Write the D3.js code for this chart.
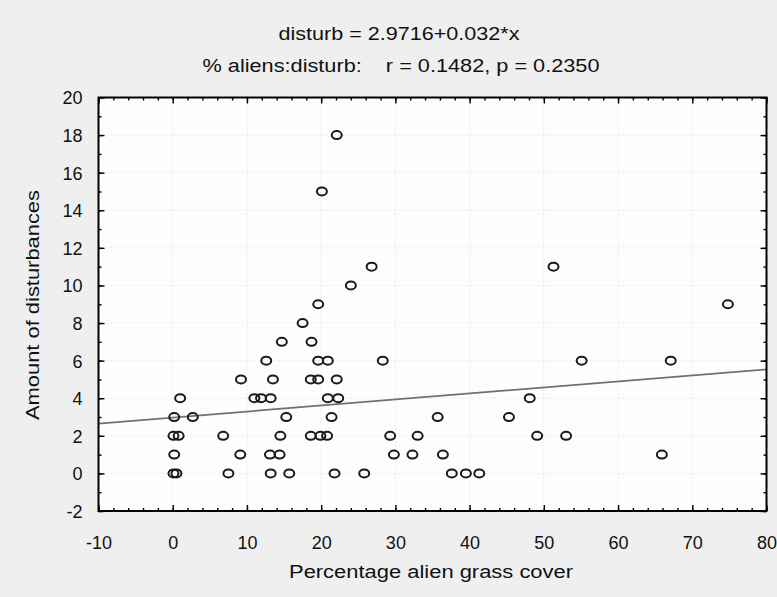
<!DOCTYPE html>
<html>
<head>
<meta charset="utf-8">
<script src="https://cdn.jsdelivr.net/npm/d3@7"></script>
<style>
  html, body { margin: 0; padding: 0; background: #efefef; }
  svg { display: block; }
  text { font-family: Arial, "Liberation Sans", sans-serif; fill: #111; }
</style>
</head>
<body>
<svg id="chart" width="777" height="597"></svg>
<script>
// ---- data ----
const alienCover = [
  22.1, 20.1, 26.8, 51.3, 24.0, 19.6, 74.8, 17.5, 14.7, 18.7,
  12.6, 19.6, 20.9, 28.3, 55.1, 67.1,
  9.2, 13.5, 18.6, 19.6, 22.1,
  1.0, 11.0, 11.9, 13.2, 20.9, 22.3, 48.1,
  0.2, 2.7, 15.3, 21.4, 35.7, 45.3,
  0.1, 0.8, 6.8, 14.5, 18.6, 19.9, 20.8, 29.3, 33.0, 49.1, 53.0,
  0.2, 9.1, 13.1, 14.4, 29.8, 32.3, 36.4, 65.9,
  0.1, 0.5, 7.5, 13.2, 15.7, 21.8, 25.8, 37.6, 39.5, 41.3
];
const disturbances = [
  18, 15, 11, 11, 10, 9, 9, 8, 7, 7,
  6, 6, 6, 6, 6, 6,
  5, 5, 5, 5, 5,
  4, 4, 4, 4, 4, 4, 4,
  3, 3, 3, 3, 3, 3,
  2, 2, 2, 2, 2, 2, 2, 2, 2, 2, 2,
  1, 1, 1, 1, 1, 1, 1, 1,
  0, 0, 0, 0, 0, 0, 0, 0, 0, 0
];
const intercept = 2.9716;
const slope = 0.032;
const xTicks = [-10, 0, 10, 20, 30, 40, 50, 60, 70, 80];
const yTicks = [-2, 0, 2, 4, 6, 8, 10, 12, 14, 16, 18, 20];
const titleLine1 = "disturb = 2.9716+0.032*x";
const titleLine2 = "% aliens:disturb:    r = 0.1482, p = 0.2350";
const xTitle = "Percentage alien grass cover";
const yTitle = "Amount of disturbances";

// ---- layout ----
const svg = d3.select("#chart");
const L = 98.5, R = 766.5, T = 97.5, B = 511;
const x = d3.scaleLinear().domain([-10, 80]).range([L, R]);
const y = d3.scaleLinear().domain([-2, 20]).range([B, T]);
const fmt = d => String(d); // plain hyphen-minus as in the reference

// plot background
svg.append("rect").attr("x", L).attr("y", T).attr("width", R - L).attr("height", B - T)
  .attr("fill", "#fdfdfd");

// faint dotted grid
const grid = svg.append("g").attr("stroke", "#dadada").attr("stroke-width", 1)
  .attr("stroke-dasharray", "1,3");
grid.selectAll("line.v").data(xTicks.slice(1, -1)).join("line")
  .attr("x1", d => x(d)).attr("x2", d => x(d)).attr("y1", T).attr("y2", B);
grid.selectAll("line.h").data(yTicks.slice(1, -1)).join("line")
  .attr("x1", L).attr("x2", R).attr("y1", d => y(d)).attr("y2", d => y(d));

// axes with inward ticks
const xMinor = d3.range(-10, 80.01, 2);
const yMinor = d3.range(-2, 20.01, 1);
function addAxis(axisGen, tx, ty) {
  const g = svg.append("g").attr("transform", `translate(${tx},${ty})`).call(axisGen);
  g.select(".domain").remove();
  g.selectAll("line").attr("stroke", "#000").attr("stroke-width", 1.4);
  return g;
}
// minor ticks
addAxis(d3.axisBottom(x).tickValues(xMinor).tickSize(-3).tickFormat(""), 0, B);
addAxis(d3.axisTop(x).tickValues(xMinor).tickSize(-3).tickFormat(""), 0, T);
addAxis(d3.axisLeft(y).tickValues(yMinor).tickSize(-3).tickFormat(""), L, 0);
addAxis(d3.axisRight(y).tickValues(yMinor).tickSize(-3).tickFormat(""), R, 0);
// major ticks
const xb = addAxis(d3.axisBottom(x).tickValues(xTicks).tickSize(-6).tickFormat(fmt), 0, B);
addAxis(d3.axisTop(x).tickValues(xTicks).tickSize(-6).tickFormat(""), 0, T);
const yl = addAxis(d3.axisLeft(y).tickValues(yTicks).tickSize(-6).tickPadding(16).tickFormat(fmt), L, 0);
addAxis(d3.axisRight(y).tickValues(yTicks).tickSize(-6).tickFormat(""), R, 0);
xb.selectAll("text").attr("font-size", 18).attr("fill", "#111")
  .style("font-family", "Arial, 'Liberation Sans', sans-serif").attr("dy", "0").attr("y", 38);
yl.selectAll("text").attr("font-size", 18).attr("fill", "#111")
  .style("font-family", "Arial, 'Liberation Sans', sans-serif").attr("dy", "0.36em");

// regression line
svg.append("line")
  .attr("x1", x(-10)).attr("y1", y(intercept + slope * -10))
  .attr("x2", x(80)).attr("y2", y(intercept + slope * 80))
  .attr("stroke", "#6f716a").attr("stroke-width", 1.7);

// points
svg.append("g").selectAll("ellipse").data(alienCover).join("ellipse")
  .attr("cx", d => x(d)).attr("cy", (d, i) => y(disturbances[i]))
  .attr("rx", 5).attr("ry", 4)
  .attr("fill", "none").attr("stroke", "#1a1a1a").attr("stroke-width", 2);

// frame
svg.append("rect").attr("x", L).attr("y", T).attr("width", R - L).attr("height", B - T)
  .attr("fill", "none").attr("stroke", "#000").attr("stroke-width", 2);

// titles
svg.append("text").attr("x", 399).attr("y", 40).attr("text-anchor", "middle")
  .attr("font-size", 17.5).attr("textLength", 241).attr("lengthAdjust", "spacingAndGlyphs")
  .text(titleLine1);
svg.append("text").attr("x", 401).attr("y", 72).attr("text-anchor", "middle")
  .attr("font-size", 17.5).attr("textLength", 397).attr("lengthAdjust", "spacingAndGlyphs")
  .style("white-space", "pre").attr("xml:space", "preserve")
  .text(titleLine2);
svg.append("text").attr("x", 431).attr("y", 578).attr("text-anchor", "middle")
  .attr("font-size", 17.5).attr("textLength", 284).attr("lengthAdjust", "spacingAndGlyphs")
  .text(xTitle);
svg.append("text").attr("transform", "translate(39,305) rotate(-90)").attr("text-anchor", "middle")
  .attr("font-size", 17.5).attr("textLength", 230).attr("lengthAdjust", "spacingAndGlyphs")
  .text(yTitle);
</script>
</body>
</html>
